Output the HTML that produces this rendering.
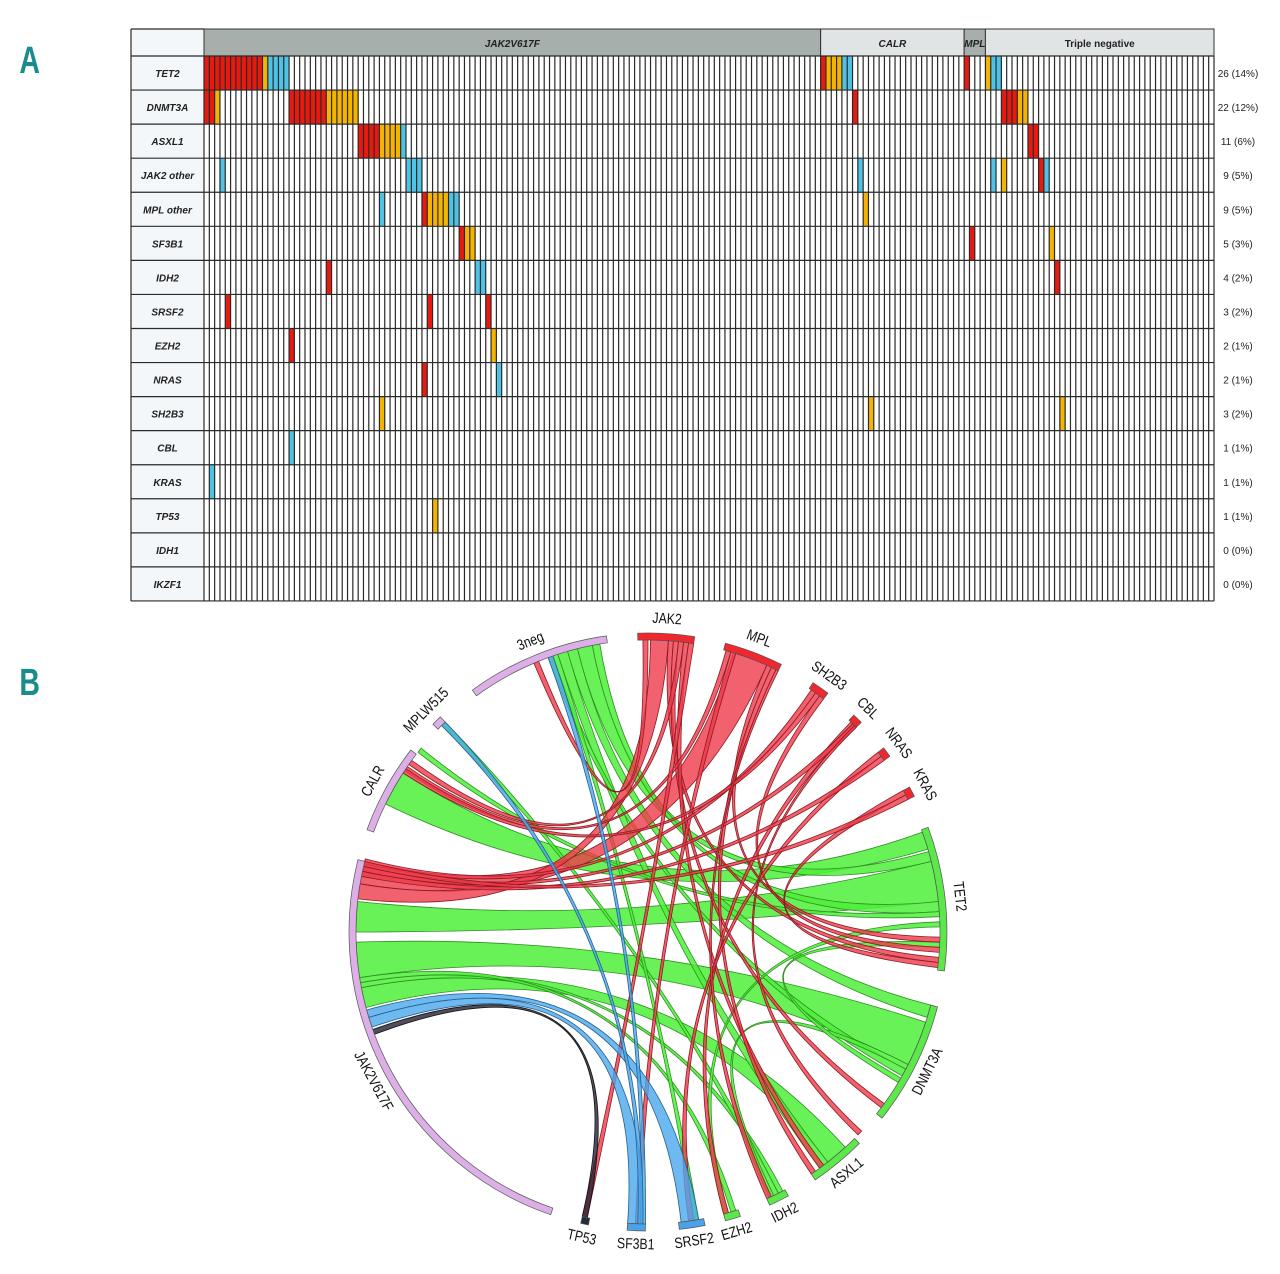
<!DOCTYPE html>
<html><head><meta charset="utf-8"><style>
body{margin:0;background:#fff;width:1280px;height:1274px;overflow:hidden;font-family:"Liberation Sans",sans-serif}
.pl{position:absolute;font-weight:bold;font-size:38px;color:#1b8c8c;font-family:"Liberation Sans Narrow","Liberation Sans",sans-serif;transform:scaleX(0.75)}
svg{position:absolute;left:0;top:0}
</style></head><body>
<div class="pl" style="left:16px;top:40px">A</div>
<div class="pl" style="left:16px;top:662px">B</div>
<svg id="grid" width="1280" height="610"></svg>
<svg id="chord" width="1280" height="1274"></svg>
<script>
const genes=["TET2","DNMT3A","ASXL1","JAK2 other","MPL other","SF3B1","IDH2","SRSF2","EZH2","NRAS","SH2B3","CBL","KRAS","TP53","IDH1","IKZF1"];
const counts=["26 (14%)","22 (12%)","11 (6%)","9 (5%)","9 (5%)","5 (3%)","4 (2%)","3 (2%)","2 (1%)","2 (1%)","3 (2%)","1 (1%)","1 (1%)","1 (1%)","0 (0%)","0 (0%)"];
const groups=[["JAK2V617F",116,"#a7afad"],["CALR",27,"#e1e4e4"],["MPL",4,"#a7afad"],["Triple negative",43,"#e1e4e4"]];
// cells: [row, startCol, endCol, colorKey]
const cells=[
[0,0,10,"r"],[0,11,11,"o"],[0,12,15,"b"],[0,116,116,"r"],[0,117,119,"o"],[0,120,121,"b"],[0,143,143,"r"],[0,147,147,"o"],[0,148,149,"b"],
[1,0,1,"r"],[1,2,2,"o"],[1,16,22,"r"],[1,23,28,"o"],[1,122,122,"r"],[1,150,152,"r"],[1,153,154,"o"],
[2,29,32,"r"],[2,33,36,"o"],[2,37,37,"b"],[2,155,156,"r"],
[3,3,3,"b"],[3,38,40,"b"],[3,123,123,"b"],[3,148,148,"b"],[3,150,150,"o"],[3,157,157,"r"],[3,158,158,"b"],
[4,33,33,"b"],[4,41,41,"r"],[4,42,45,"o"],[4,46,47,"b"],[4,124,124,"o"],
[5,48,48,"r"],[5,49,50,"o"],[5,144,144,"r"],[5,159,159,"o"],
[6,23,23,"r"],[6,51,52,"b"],[6,160,160,"r"],
[7,4,4,"r"],[7,42,42,"r"],[7,53,53,"r"],
[8,16,16,"r"],[8,54,54,"o"],
[9,41,41,"r"],[9,55,55,"b"],
[10,33,33,"o"],[10,125,125,"o"],[10,161,161,"o"],
[11,16,16,"b"],[12,1,1,"b"],[13,43,43,"o"]];
const cmap={r:"#e8190f",o:"#f5b400",b:"#4ec3e6"};
const NS="http://www.w3.org/2000/svg";
function mk(p,t,a){const e=document.createElementNS(NS,t);for(const k in a)e.setAttribute(k,a[k]);p.appendChild(e);return e;}
(function(){
const g=document.getElementById('grid');
const X0=131,XL=204,X1=1214,Y0=29,HH=27,RH=34.06,NC=190,CW=(X1-XL)/NC;
const x=c=>XL+c*CW, y=r=>Y0+HH+r*RH;
mk(g,'rect',{x:X0,y:Y0,width:XL-X0,height:HH+genes.length*RH,fill:'#f4f7f9'});
let c0=0;
groups.forEach(gr=>{
 const r=mk(g,'rect',{x:x(c0),y:Y0,width:gr[1]*CW,height:HH,fill:gr[2],stroke:'#333','stroke-width':1});
 
 
 const t=mk(g,'text',{x:x(c0+gr[1]/2),y:Y0+18,'text-anchor':'middle','font-size':10,'font-weight':'bold','font-style':gr[0]=="Triple negative"?'normal':'italic',fill:'#222'});
 t.textContent=gr[0];
 
 
 c0+=gr[1];
});
cells.forEach(c=>{
 const r=mk(g,'rect',{x:x(c[1]),y:y(c[0]),width:(c[2]-c[1]+1)*CW,height:RH,fill:cmap[c[3]]});
 
 
});
let d='';
for(let c=0;c<=NC;c++)d+=`M${x(c).toFixed(2)} ${y(0)}V${y(genes.length)}`;
for(let r=0;r<=genes.length;r++)d+=`M${X0} ${y(r)}H${X1}`;
d+=`M${X0} ${Y0}H${XL}M${X0} ${Y0}V${y(genes.length)}`;
mk(g,'path',{d:d,stroke:'#2a2a2a','stroke-width':1.2,fill:'none'});
genes.forEach((n,i)=>{
 const t=mk(g,'text',{x:(X0+XL)/2,y:y(i)+RH/2+4,'text-anchor':'middle','font-size':10,'font-weight':'bold','font-style':'italic',fill:'#222'});
 t.textContent=n;
 
 
 const u=mk(g,'text',{x:1238,y:y(i)+RH/2+4,'text-anchor':'middle','font-size':10,fill:'#222'});
 u.textContent=counts[i];
 
 
});
})();
// chord diagram
const segNames=["JAK2","MPL","SH2B3","CBL","NRAS","KRAS","TET2","DNMT3A","ASXL1","IDH2","EZH2","SRSF2","SF3B1","TP53","JAK2V617F","CALR","MPLW515","3neg"];
const segStart=[-2,15,33.5,43.5,52,61,69.5,104.5,135,152,162,169,180.5,191.5,199,290,314,324];
const segEnd=[9,26.5,37,45.5,54,63,97.5,128.5,146,156,165,174,184,193,284,307.5,316,352];
const segColor=["#f0272e","#f0272e","#f0272e","#f0272e","#f0272e","#f0272e","#5ce84a","#5ce84a","#5ce84a","#5ce84a","#5ce84a","#4aa3e8","#4aa3e8","#222d3a","#dcb0e6","#dcb0e6","#dcb0e6","#dcb0e6"];
// chords: [angleA1, angleA2, angleB1, angleB2, colorKey]
const chords=[
[70,73.5,296,303,"g"],[76,84,270,276,"g"],[108,117,261,268,"g"],[137.5,142,255,259,"g"],
[74,76,346,349,"g"],[104.5,107,344,346,"g"],[142,144,342,344,"g"],[84,86,349,350.5,"g"],
[152.5,153.5,259,260,"g"],[162.5,163.5,260,261,"g"],[153.5,154.5,315,316,"g"],[86,87,308,309,"g"],
[118,119.5,340,341,"g"],[164,165,88,89,"g"],[154.5,155.5,117,118,"g"],[170,171,341,342,"g"],[120,121,92,93,"g"],
[17,24,279.5,284,"r"],[0.5,4,276.5,279.5,"r"],[4,5,95,96,"r"],[5,6,126,127,"r"],[6,7,305,306,"r"],[7,8,143,144,"r"],
[-1,0,337,338,"r"],[15.5,16.5,303.5,304.5,"r"],[16.5,17.5,181.5,182.5,"r"],[24,25,91,92,"r"],[25,26,145,146,"r"],
[34,35,283.5,284.5,"r"],[35,36,303,304,"r"],[36,37,93,94,"r"],[44,45,164,165,"r"],[44.5,45.5,282,283,"r"],
[52,53,171,172,"r"],[53,54,281,282,"r"],[61,62,96,97,"r"],[62,63,283,284,"r"],[8,9,192,193,"r"],[26,26.5,155,156,"r"],[45,45.5,133,134,"r"],
[181,184,251,253,"b"],[170,173.5,253,254.5,"b"],[180.5,181.5,340,341,"b"],[315,316,181,182,"b"],[192,193,249.5,250.5,"k"]];
const chordColor={g:"#4df03a",r:"#ef3a4a",b:"#4aa8ec",k:"#223"};
const chordStroke={g:"#2f8f22",r:"#8b1a22",b:"#24608e",k:"#111"};
(function(){
const s=document.getElementById('chord');
const CX=648,CY=932,R=292,W=7;
const P=(a,r)=>{const t=a*Math.PI/180;return [CX+r*Math.sin(t),CY-r*Math.cos(t)];};
const f=p=>p[0].toFixed(1)+' '+p[1].toFixed(1);
chords.forEach(c=>{
 const a1=P(c[0],R),a2=P(c[1],R),b1=P(c[2],R),b2=P(c[3],R);
 const d=`M${f(a1)}A${R} ${R} 0 0 1 ${f(a2)}Q${CX} ${CY} ${f(b1)}A${R} ${R} 0 0 1 ${f(b2)}Q${CX} ${CY} ${f(a1)}Z`;
 const p=mk(s,'path',{d:d,fill:chordColor[c[4]],'fill-opacity':c[4]=='g'?0.85:0.8,stroke:chordStroke[c[4]],'stroke-width':0.8});
 
 
});
segNames.forEach((n,i)=>{
 const a=segStart[i],b=segEnd[i];
 const o1=P(a,R+W),o2=P(b,R+W),i1=P(a,R),i2=P(b,R);
 const lg=(b-a)>180?1:0;
 const d=`M${f(i1)}A${R} ${R} 0 ${lg} 1 ${f(i2)}L${f(o2)}A${R+W} ${R+W} 0 ${lg} 0 ${f(o1)}Z`;
 const e=mk(s,'path',{d:d,fill:segColor[i],stroke:'#555','stroke-width':0.7});
 
 
 const m=(a+b)/2,lp=P(m,R+W+14);
 let rot=m<90?m:(m<270?m-180:m-360);
 const X=lp[0].toFixed(1),Y=lp[1].toFixed(1);
 const t=mk(s,'text',{x:X,y:Y,'text-anchor':'middle','dominant-baseline':'middle','font-size':15,fill:'#111',transform:`rotate(${rot.toFixed(1)} ${X} ${Y}) translate(${X} ${Y}) scale(0.82 1) translate(${-X} ${-Y})`});
 t.textContent=n;
 
 
});
})();
</script>
</body></html>
